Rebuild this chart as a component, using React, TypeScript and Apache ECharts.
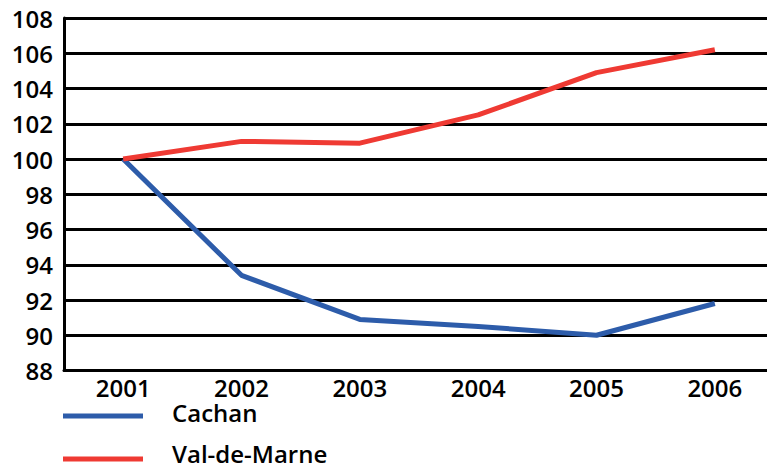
import React, { useEffect, useRef } from "react";
import * as echarts from "echarts";

const years = ["2001", "2002", "2003", "2004", "2005", "2006"];
const cachan = [100, 93.4, 90.9, 90.5, 90.0, 91.8];
const valDeMarne = [100, 101.0, 100.9, 102.5, 104.9, 106.2];
const seriesNames = ["Cachan", "Val-de-Marne"];

const FONT = "'Open Sans', sans-serif";

export default function App() {
  const ref = useRef<HTMLDivElement>(null);
  useEffect(() => {
    if (!ref.current) return;
    const chart = echarts.init(ref.current, undefined, { renderer: "svg" });
    const legendText = {
      fontFamily: FONT,
      fontSize: 24,
      fontWeight: 600,
      color: "#000",
      lineHeight: 24,
    };
    const iconLegend = (name: string, top: number) => ({
      left: 63,
      top,
      padding: 0,
      icon: "rect",
      itemWidth: 80,
      itemHeight: 5,
      selectedMode: false,
      data: [name],
      formatter: () => "",
      textStyle: { fontSize: 1, lineHeight: 1 },
    });
    const textLegend = (name: string, top: number) => ({
      left: 167,
      top,
      padding: 0,
      icon: "none",
      itemWidth: 0,
      itemHeight: 0,
      selectedMode: false,
      data: [name],
      textStyle: legendText,
    });
    chart.setOption({
      animation: false,
      backgroundColor: "#ffffff",
      grid: {
        left: 64,
        width: 710,
        top: 18,
        height: 352.5,
        containLabel: false,
        outerBoundsMode: "none",
      },
      legend: [
        iconLegend(seriesNames[0], 413.5),
        iconLegend(seriesNames[1], 456.5),
        textLegend(seriesNames[0], 400),
        textLegend(seriesNames[1], 441),
      ],
      xAxis: {
        type: "category",
        data: years,
        boundaryGap: true,
        axisLine: { show: true, lineStyle: { color: "#000", width: 3 } },
        axisTick: { show: false },
        axisLabel: {
          fontFamily: FONT,
          fontSize: 24,
          fontWeight: 600,
          color: "#000",
          margin: 5,
        },
        splitLine: { show: false },
      },
      yAxis: {
        type: "value",
        min: 88,
        max: 108,
        interval: 2,
        axisLine: { show: true, lineStyle: { color: "#000", width: 3 } },
        axisTick: { show: false },
        axisLabel: {
          fontFamily: FONT,
          fontSize: 24,
          fontWeight: 600,
          color: "#000",
          margin: 11,
        },
        splitLine: { show: true, lineStyle: { color: "#000", width: 3 } },
      },
      series: [
        {
          name: seriesNames[0],
          type: "line",
          data: cachan,
          symbol: "none",
          lineStyle: { color: "#2D5CAA", width: 5 },
          itemStyle: { color: "#2D5CAA" },
        },
        {
          name: seriesNames[1],
          type: "line",
          data: valDeMarne,
          symbol: "none",
          lineStyle: { color: "#EF3A33", width: 5 },
          itemStyle: { color: "#EF3A33" },
        },
      ],
    });
    return () => chart.dispose();
  }, []);
  return <div ref={ref} style={{ width: 767, height: 465, position: "absolute", left: 0, top: 0 }} />;
}
